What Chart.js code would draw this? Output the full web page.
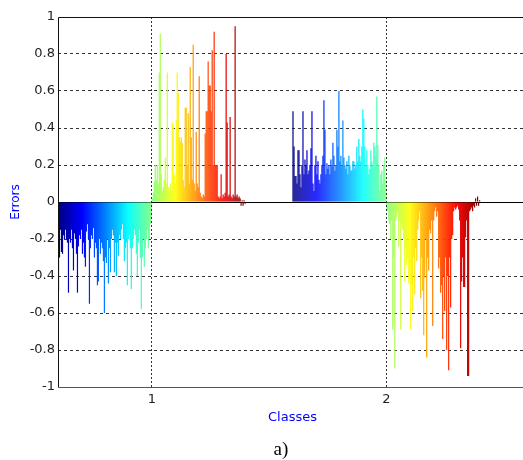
<!DOCTYPE html>
<html>
<head>
<meta charset="utf-8">
<script src="https://cdn.jsdelivr.net/npm/chart.js@4.4.1/dist/chart.umd.min.js"></script>
<style>
  html, body { margin: 0; padding: 0; background: #fff; overflow: hidden; }
</style>
</head>
<body>
<canvas id="errChart" width="527" height="460"></canvas>
<script>
// axis setup
const xRange = [0.6, 2.6];
const xTicks = [1, 2];
const yTicks = [-1, -0.8, -0.6, -0.4, -0.2, 0, 0.2, 0.4, 0.6, 0.8, 1];

// classes and the spread of their samples on the x axis
const classes = [1, 2];
const spread = 0.4;

// errors, one value per sample (first half / second half of each class)
const class1First = [
  -0.48, -0.3, -0.15, -0.27, -0.28, -0.18, -0.2, -0.15, -0.2, -0.22,
  -0.49, -0.2, -0.22, -0.15, -0.25, -0.37, -0.17, -0.2, -0.28, -0.49,
  -0.24, -0.18, -0.2, -0.15, -0.28, -0.22, -0.3, -0.35, -0.16, -0.12,
  -0.2, -0.55, -0.25, -0.18, -0.2, -0.14, -0.3, -0.22, -0.25, -0.45,
  -0.43, -0.2, -0.28, -0.22, -0.25, -0.32, -0.6, -0.3, -0.33, -0.2,
  -0.44, -0.25, -0.38, -0.2, -0.15, -0.18, -0.38, -0.22, -0.4, -0.22,
  -0.29, -0.18, -0.2, -0.15, -0.12, -0.2, -0.32, -0.25, -0.22, -0.45,
  -0.2, -0.18, -0.25, -0.47, -0.25, -0.2, -0.15, -0.18, -0.28, -0.4,
  -0.22, -0.15, -0.3, -0.58, -0.3, -0.2, -0.35, -0.25, -0.2, -0.15,
  -0.25, -0.2, -0.12, -0.08];
const class1Second = [
  0.02, 0.05, 0.11, 0.2, 0.12, 0.2, 0.1, 0.7, 0.91, 0.15,
  0.06, 0.08, 0.12, 0.24, 0.1, 0.7, 0.08, 0.05, 0.1, 0.06,
  0.43, 0.42, 0.15, 0.1, 0.44, 0.7, 0.59, 0.35, 0.33, 0.35,
  0.32, 0.12, 0.08, 0.51, 0.51, 0.2, 0.48, 0.1, 0.73, 0.35,
  0.12, 0.85, 0.1, 0.06, 0.38, 0.1, 0.08, 0.68, 0.05, 0.03,
  0.02, 0.04, 0.03, 0.37, 0.49, 0.49, 0.76, 0.63, 0.63, 0.49,
  0.82, 0.2, 0.92, 0.2, 0.2, 0.2, 0.03, 0.02, 0.03, 0.15,
  0.02, 0.04, 0.03, 0.05, 0.8, 0.43, 0.03, 0.04, 0.46, 0.03,
  0.02, 0.04, 0.03, 0.95, 0.03, 0.04, 0.02, 0.03, 0.02, -0.02,
  0.01, -0.02, 0.01, -0.01];
const class2First = [
  0.49, 0.3, 0.14, 0.14, 0.1, 0.28, 0.28, 0.15, 0.08, 0.2,
  0.49, 0.15, 0.23, 0.2, 0.28, 0.15, 0.17, 0.2, 0.29, 0.49,
  0.1, 0.06, 0.2, 0.25, 0.15, 0.22, 0.12, 0.1, 0.15, 0.2,
  0.25, 0.55, 0.39, 0.15, 0.21, 0.18, 0.2, 0.15, 0.23, 0.2,
  0.32, 0.25, 0.17, 0.2, 0.39, 0.3, 0.6, 0.22, 0.25, 0.2,
  0.44, 0.24, 0.2, 0.18, 0.22, 0.15, 0.25, 0.2, 0.17, 0.17,
  0.22, 0.22, 0.18, 0.2, 0.3, 0.22, 0.34, 0.25, 0.22, 0.3,
  0.5, 0.45, 0.3, 0.2, 0.28, 0.2, 0.15, 0.18, 0.28, 0.22,
  0.2, 0.32, 0.3, 0.25, 0.57, 0.31, 0.2, 0.06, 0.15, 0.17,
  0.1, 0.2, 0.24, 0.12];
const class2Second = [
  -0.04, -0.05, -0.1, -0.12, -0.2, -0.1, -0.69, -0.3, -0.9, -0.1,
  -0.08, -0.05, -0.24, -0.1, -0.69, -0.12, -0.15, -0.2, -0.43, -0.25,
  -0.34, -0.3, -0.44, -0.4, -0.69, -0.45, -0.59, -0.3, -0.5, -0.25,
  -0.32, -0.15, -0.1, -0.05, -0.52, -0.3, -0.48, -0.72, -0.41, -0.2,
  -0.84, -0.3, -0.37, -0.15, -0.17, -0.1, -0.67, -0.1, -0.05, -0.03,
  -0.08, -0.05, -0.36, -0.3, -0.49, -0.45, -0.74, -0.4, -0.59, -0.3,
  -0.8, -0.4, -0.91, -0.3, -0.57, -0.2, -0.18, -0.05, -0.03, -0.04,
  -0.03, -0.02, -0.04, -0.1, -0.79, -0.43, -0.3, -0.46, -0.46, -0.19,
  -0.1, -0.94, -0.94, -0.05, -0.04, -0.03, -0.05, -0.02, -0.03, 0.02,
  -0.02, 0.03, -0.02, 0.01];

const classErrors = [class1First.concat(class1Second), class2First.concat(class2Second)];

// matlab jet colormap
function jet(t) {
  const c = v => Math.round(255 * Math.max(0, Math.min(1, v)));
  return 'rgb(' + c(1.5 - Math.abs(4 * t - 3)) + ',' + c(1.5 - Math.abs(4 * t - 2)) + ',' + c(1.5 - Math.abs(4 * t - 1)) + ')';
}

const points = [];
const colors = [];
classes.forEach((cls, k) => {
  const errs = classErrors[k];
  const w = 2 * spread / errs.length;
  errs.forEach((e, i) => {
    points.push({ x: cls - spread + (i + 0.5) * w, y: e });
    colors.push(jet(i / (errs.length - 1)));
  });
});

// box around the plot (matlab style, right side is cut off by the window) + caption
const framePlugin = {
  id: 'frame',
  afterDraw(chart) {
    const { ctx } = chart;
    const xs = chart.scales.x, ys = chart.scales.y;
    const top = Math.round(ys.getPixelForValue(1)) + 0.5;
    const bottom = Math.round(ys.getPixelForValue(-1)) + 0.5;
    const left = Math.round(xs.getPixelForValue(xRange[0])) + 0.5;
    const right = xs.getPixelForValue(xRange[1]);
    ctx.save();
    ctx.lineWidth = 1;
    ctx.strokeStyle = '#111';
    ctx.beginPath();
    ctx.moveTo(right, top);
    ctx.lineTo(left, top);
    ctx.lineTo(left, bottom);
    ctx.stroke();
    ctx.strokeStyle = '#555';
    ctx.beginPath();
    ctx.moveTo(left, bottom);
    ctx.lineTo(right, bottom);
    ctx.stroke();
    ctx.fillStyle = '#000';
    ctx.font = '19px "Liberation Serif", serif';
    ctx.textAlign = 'center';
    ctx.textBaseline = 'middle';
    ctx.fillText('a)', 281, 450);
    ctx.restore();
  }
};

new Chart(document.getElementById('errChart'), {
  type: 'bar',
  data: {
    datasets: [{
      data: points,
      backgroundColor: colors,
      borderWidth: 0,
      barPercentage: 1.2,
      categoryPercentage: 1
    }]
  },
  options: {
    responsive: false,
    animation: false,
    layout: { padding: { top: 17, right: 0, bottom: 0, left: 0 } },
    plugins: { legend: { display: false }, tooltip: { enabled: false } },
    scales: {
      x: {
        type: 'linear',
        min: xRange[0],
        max: xRange[1],
        offset: false,
        afterFit: s => { s.height = 73; },
        afterBuildTicks: s => { s.ticks = xTicks.map(v => ({ value: v })); },
        ticks: { color: '#222', padding: 5, font: { family: 'DejaVu Sans', size: 13 } },
        grid: { color: '#333', drawTicks: false, offset: false, z: 1 },
        border: { display: false, dash: ctx => ctx.type === 'tick' ? [2, 2] : [] },
        title: {
          display: true, text: 'Classes', color: '#0000ff',
          font: { family: 'DejaVu Sans', size: 13 },
          padding: { top: 0, bottom: 35 }
        }
      },
      y: {
        min: -1,
        max: 1,
        afterFit: s => { s.width = 58; },
        afterBuildTicks: s => { s.ticks = yTicks.map(v => ({ value: v })); },
        ticks: {
          color: '#222', padding: 3, font: { family: 'DejaVu Sans', size: 13 },
          callback: v => String(Number(v.toFixed(1)))
        },
        grid: {
          drawTicks: false,
          color: ctx => Math.abs(ctx.tick.value) === 1 ? 'rgba(0,0,0,0)' : (ctx.tick.value === 0 ? '#000' : '#333')
        },
        border: {
          display: false,
          dash: ctx => (ctx.type === 'tick' && ctx.tick.value !== 0) ? [3, 3] : []
        },
        title: {
          display: true, text: 'Errors', color: '#0000ff',
          font: { family: 'DejaVu Sans', size: 12 },
          padding: { top: 9, bottom: 0 }
        }
      }
    }
  },
  plugins: [framePlugin]
});
</script>
</body>
</html>
